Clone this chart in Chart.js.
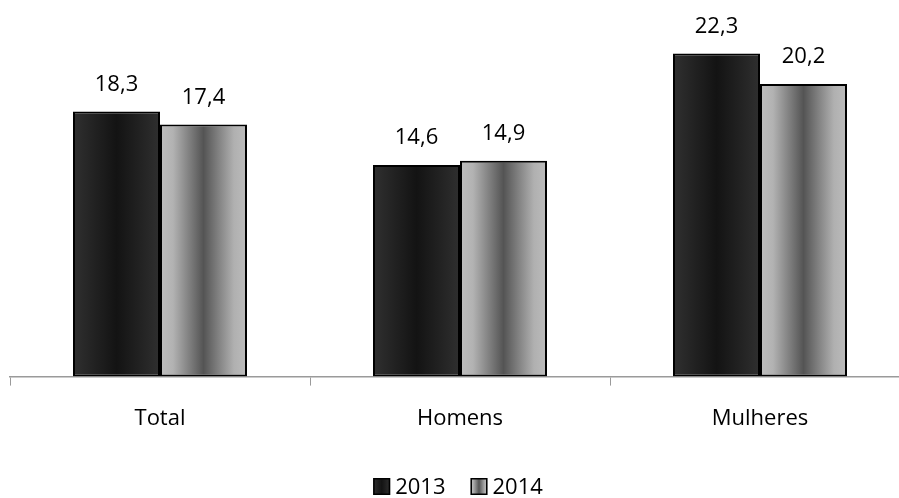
<!DOCTYPE html>
<html>
<head>
<meta charset="utf-8">
<script src="https://cdn.jsdelivr.net/npm/chart.js@4/dist/chart.umd.min.js"></script>
<style>
  html, body { margin: 0; padding: 0; overflow: hidden; background: #fff; }
  #wrap { width: 910px; height: 498px; }
</style>
</head>
<body>
<div id="wrap"><canvas id="c"></canvas></div>
<script>
// Categories and yearly series
const categories = ['Total', 'Homens', 'Mulheres'];
const seriesLabels = ['2013', '2014'];
const values2013 = [18.3, 14.6, 22.3];
const values2014 = [17.4, 14.9, 20.2];

const FONT = '"Open Sans", sans-serif';

// Horizontal shading for each series, as colour stops across a bar's width
const shades = [
  [[0, '#303030'], [0.5, '#131313'], [1, '#2f2f2f']],
  [[0, '#bebebe'], [0.15, '#b2b2b2'], [0.5, '#545454'], [0.85, '#b0b0b0'], [1, '#bcbcbc']]
];

function makeGradient(ctx, x0, x1, stops) {
  const g = ctx.createLinearGradient(x0, 0, x1, 0);
  stops.forEach(s => g.addColorStop(s[0], s[1]));
  return g;
}

const fmt = v => v.toFixed(1).replace('.', ',');

// Gives every bar its own options object carrying a gradient fitted to its width
const barShading = {
  id: 'barShading',
  beforeDatasetsDraw(chart) {
    const ctx = chart.ctx;
    chart.data.datasets.forEach((ds, i) => {
      chart.getDatasetMeta(i).data.forEach(bar => {
        const half = bar.width / 2;
        const opts = Object.assign({}, bar.options);
        opts.backgroundColor = makeGradient(ctx, bar.x - half, bar.x + half, shades[i]);
        bar.options = opts;
      });
    });
  }
};

// Value labels above the bars
const valueLabels = {
  id: 'valueLabels',
  afterDatasetsDraw(chart) {
    const ctx = chart.ctx;
    ctx.save();
    ctx.font = '22px ' + FONT;
    ctx.fillStyle = '#000';
    ctx.textAlign = 'center';
    ctx.textBaseline = 'alphabetic';
    chart.data.datasets.forEach((ds, i) => {
      chart.getDatasetMeta(i).data.forEach((bar, j) => {
        ctx.fillText(fmt(ds.data[j]), bar.x, bar.y - 21);
      });
    });
    ctx.restore();
  }
};

// Legend row under the axis labels
const legendRow = {
  id: 'legendRow',
  afterDraw(chart) {
    const ctx = chart.ctx;
    ctx.save();
    ctx.font = '22px ' + FONT;
    ctx.textBaseline = 'middle';
    const box = 17, gap = 5, itemGap = 25;
    const widths = chart.data.datasets.map(ds => box + gap + ctx.measureText(ds.label).width);
    const total = widths.reduce((a, b) => a + b, 0) + itemGap * (widths.length - 1);
    const area = chart.chartArea;
    let x = (area.left + area.right) / 2 - total / 2 - 2;
    const y = 486.5;
    chart.data.datasets.forEach((ds, i) => {
      ctx.fillStyle = makeGradient(ctx, x, x + box, shades[i]);
      ctx.fillRect(x, y - box / 2, box, box);
      ctx.lineWidth = 1.5;
      ctx.strokeStyle = '#000';
      ctx.strokeRect(x + 0.75, y - box / 2 + 0.75, box - 1.5, box - 1.5);
      ctx.fillStyle = '#000';
      ctx.textAlign = 'left';
      ctx.fillText(ds.label, x + box + gap, y + 1);
      x += widths[i] + itemGap;
    });
    ctx.restore();
  }
};

new Chart(document.getElementById('c'), {
  type: 'bar',
  data: {
    labels: categories,
    datasets: [
      { label: seriesLabels[0], data: values2013, borderColor: '#000', backgroundColor: '#222' },
      { label: seriesLabels[1], data: values2014, borderColor: '#000', backgroundColor: '#999' }
    ]
  },
  options: {
    responsive: true,
    maintainAspectRatio: false,
    animation: false,
    events: [],
    layout: { padding: { left: 10, right: 0, top: 0, bottom: 46 } },
    datasets: {
      bar: {
        borderWidth: 2,
        borderSkipped: false,
        categoryPercentage: 0.58,
        barPercentage: 1
      }
    },
    plugins: { legend: { display: false }, tooltip: { enabled: false } },
    scales: {
      x: {
        grid: {
          display: true,
          drawOnChartArea: false,
          drawTicks: true,
          tickLength: 9,
          color: '#9a9a9a',
          offset: true
        },
        border: { display: true, color: '#9a9a9a', width: 1.5 },
        ticks: { color: '#000', font: { family: FONT, size: 22 }, padding: 20 }
      },
      y: { display: false, min: 0, max: 26 }
    }
  },
  plugins: [barShading, valueLabels, legendRow]
});
</script>
</body>
</html>
